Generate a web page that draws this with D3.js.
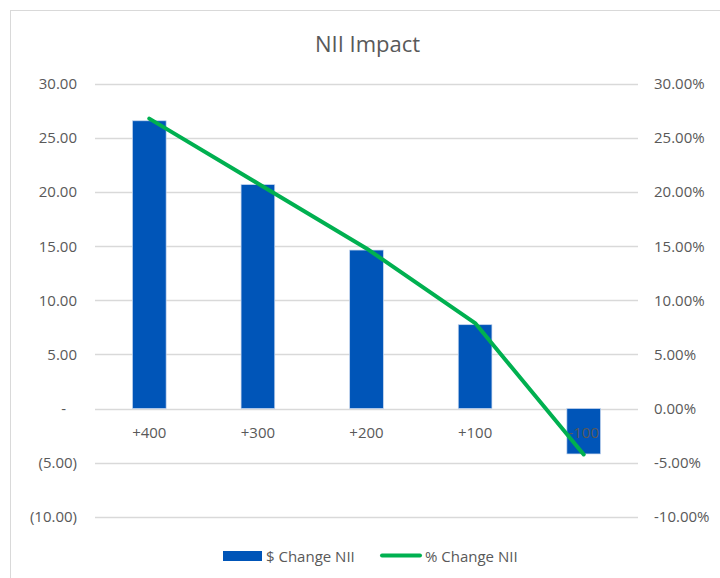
<!DOCTYPE html>
<html><head><meta charset="utf-8">
<script src="https://cdn.jsdelivr.net/npm/d3@7"></script>
<style>body{margin:0;background:#fff}svg{display:block}text{font-family:"Open Sans",sans-serif;fill:#595959}</style>
</head><body>
<script>
const categories = ["+400", "+300", "+200", "+100", "-100"];
const dollarChange = [26.6, 20.7, 14.65, 7.75, -4.2];
const pctChange = [0.268, 0.208, 0.148, 0.079, -0.0425];
const leftTicks = [30, 25, 20, 15, 10, 5, 0, -5, -10];
const rightTicks = [0.30, 0.25, 0.20, 0.15, 0.10, 0.05, 0, -0.05, -0.10];
const seriesNames = ["$ Change NII", "% Change NII"];
const title = "NII Impact";

const W = 720, H = 578;
const svg = d3.select("body").append("svg").attr("width", W).attr("height", H);
svg.append("rect").attr("x", 10.5).attr("y", 10.5).attr("width", 720).attr("height", 600)
  .attr("fill", "none").attr("stroke", "#d9d9d9");

const x = d3.scaleBand().domain(categories).range([95, 638]).paddingInner(0.69).paddingOuter(0.345);
const y = d3.scaleLinear().domain([-10, 30]).range([516.7, 84]);
const y2 = d3.scaleLinear().domain([-0.10, 0.30]).range([516.7, 84]);

// gridlines
svg.append("g").selectAll("line").data(leftTicks).join("line")
  .attr("x1", 95).attr("x2", 638).attr("y1", d => Math.round(y(d)) + 0.5).attr("y2", d => Math.round(y(d)) + 0.5)
  .attr("stroke", "#d9d9d9").attr("stroke-width", 1.3);

// left axis
const f2 = d3.format(".2f");
const fmtL = d => d === 0 ? "-" : d < 0 ? "(" + f2(-d) + ")" : f2(d);
const gl = svg.append("g").call(d3.axisLeft(y).tickValues(leftTicks).tickFormat(fmtL).tickSize(0).tickPadding(0))
  .attr("transform", "translate(77,0)");
gl.select(".domain").remove();
gl.selectAll("text").attr("font-size", 15).attr("font-family", "Open Sans").attr("fill", "#595959")
  .attr("dx", d => d === 0 ? -11 : 0);

// right axis
const fmtR = d => (d < 0 ? "-" : "") + f2(Math.abs(d) * 100) + "%";
const gr = svg.append("g").call(d3.axisRight(y2).tickValues(rightTicks).tickFormat(fmtR).tickSize(0).tickPadding(0))
  .attr("transform", "translate(654,0)");
gr.select(".domain").remove();
gr.selectAll("text").attr("font-size", 15).attr("font-family", "Open Sans").attr("fill", "#595959");

// bars
svg.append("g").selectAll("rect").data(categories).join("rect")
  .attr("x", (d) => x(d))
  .attr("width", x.bandwidth())
  .attr("y", (d, i) => y(Math.max(0, dollarChange[i])))
  .attr("height", (d, i) => Math.abs(y(dollarChange[i]) - y(0)))
  .attr("fill", "#0055b8").attr("stroke", "#c6d6ee").attr("stroke-width", 0.7);

// category labels
const gx = svg.append("g").call(d3.axisBottom(x).tickSize(0).tickPadding(0))
  .attr("transform", "translate(0,427)");
gx.select(".domain").remove();
gx.selectAll("text").attr("font-size", 15).attr("font-family", "Open Sans").attr("fill", "#595959");

// line
const line = d3.line().x((d, i) => x(categories[i]) + x.bandwidth() / 2).y(d => y2(d));
svg.append("path").datum(pctChange).attr("d", line)
  .attr("fill", "none").attr("stroke", "#00b050").attr("stroke-width", 4).attr("stroke-linecap", "round").attr("stroke-linejoin", "round");

// title
svg.append("text").attr("x", 367.5).attr("y", 52).attr("text-anchor", "middle")
  .attr("font-size", 22).text(title);

// legend
const lg = svg.append("g");
lg.append("rect").attr("x", 223).attr("y", 551).attr("width", 39).attr("height", 10).attr("fill", "#0055b8");
lg.append("text").attr("x", 266).attr("y", 561.5).attr("font-size", 15).text(seriesNames[0]);
lg.append("line").attr("x1", 382).attr("x2", 420).attr("y1", 555.5).attr("y2", 555.5)
  .attr("stroke", "#00b050").attr("stroke-width", 4).attr("stroke-linecap", "round");
lg.append("text").attr("x", 425).attr("y", 561.5).attr("font-size", 15).text(seriesNames[1]);
</script>
</body></html>
